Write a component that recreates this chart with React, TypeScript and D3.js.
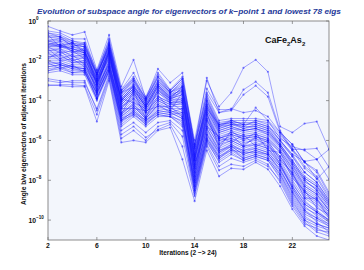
import React from "react";
import * as d3 from "d3";

const iterations = d3.range(2, 26);
const xTicks = [2, 6, 10, 14, 18, 22];
const yTickExps = [0, -2, -4, -6, -8, -10];

// log10 of subspace angle, x = 2..25
const seriesLog: number[][] = [
  [-0.27,-0.5,-0.7,-0.55,-2.45,-0.7,-3.3,-1.95,-3.9,-2.4,-3.1,-2.6,-6.3,-2.85,-4.6,-4.4,-4.6,-4.5,-4.8,-5.6,-6.2,-7.1,-7.5,-8.6],
  [-0.5,-0.6,-0.9,-0.9,-2.6,-0.9,-3.45,-2.6,-3.8,-2.6,-3.45,-2.8,-6.0,-3.0,-4.3,-3.6,-2.35,-1.95,-2.55,-5.3,-5.6,-5.15,-5.05,-6.45],
  [-0.6,-0.7,-1.0,-1.1,-2.5,-1.0,-3.5,-2.8,-3.9,-2.7,-3.5,-2.9,-6.2,-3.4,-4.45,-4.45,-3.45,-3.05,-3.6,-5.5,-6.45,-6.45,-6.4,-7.35],
  [-0.8,-0.8,-1.1,-1.2,-2.7,-1.1,-3.6,-2.9,-4.0,-2.8,-3.6,-3.0,-6.4,-3.6,-4.6,-4.5,-3.7,-3.25,-3.8,-5.6,-6.5,-7.05,-6.95,-6.45],
  [-1.2,-1.3,-1.3,-1.5,-3.0,-1.5,-3.9,-3.3,-4.2,-3.2,-3.9,-3.3,-6.7,-4.0,-5.2,-5.0,-5.2,-4.35,-5.0,-5.9,-6.3,-6.5,-6.95,-7.95],
  [-1.3,-1.2,-1.5,-1.6,-3.1,-1.6,-4.0,-3.4,-4.3,-3.3,-4.0,-3.5,-6.9,-4.2,-5.3,-5.1,-5.3,-5.0,-5.2,-6.0,-6.7,-7.05,-7.95,-7.3],
  [-0.7,-0.8,-1.0,-1.2,-2.6,-1.1,-3.5,-2.9,-3.9,-2.8,-3.5,-2.9,-6.2,-3.7,-5.0,-4.9,-4.9,-4.9,-5.0,-5.6,-6.2,-7.1,-7.6,-8.7],
  [-0.8,-0.9,-1.1,-1.3,-2.7,-1.2,-3.6,-3.0,-3.9,-2.9,-3.6,-3.1,-6.3,-3.8,-5.1,-5.0,-5.0,-5.0,-5.1,-5.7,-6.4,-7.3,-7.8,-8.8],
  [-1.0,-0.9,-1.2,-1.3,-2.7,-1.2,-3.8,-3.1,-4.0,-3.0,-3.6,-3.2,-6.5,-3.9,-5.2,-5.1,-5.1,-5.1,-5.3,-5.8,-6.5,-7.4,-7.9,-8.9],
  [-1.0,-1.1,-1.3,-1.4,-2.8,-1.3,-3.8,-3.2,-4.1,-3.1,-3.7,-3.3,-6.6,-4.1,-5.3,-5.2,-5.2,-5.2,-5.4,-6.0,-6.7,-7.6,-8.1,-9.0],
  [-1.1,-1.2,-1.4,-1.5,-2.9,-1.4,-3.9,-3.3,-4.2,-3.2,-3.8,-3.4,-6.7,-4.2,-5.4,-5.2,-5.3,-5.3,-5.5,-6.1,-6.8,-7.8,-8.2,-9.1],
  [-1.2,-1.2,-1.4,-1.6,-2.9,-1.5,-4.0,-3.4,-4.3,-3.3,-3.9,-3.5,-6.8,-4.3,-5.5,-5.3,-5.5,-5.4,-5.6,-6.2,-7.0,-7.9,-8.3,-9.2],
  [-1.3,-1.3,-1.5,-1.7,-3.0,-1.6,-4.1,-3.5,-4.3,-3.4,-3.9,-3.7,-6.9,-4.5,-5.6,-5.4,-5.6,-5.5,-5.7,-6.3,-7.1,-8.0,-8.5,-9.3],
  [-1.4,-1.4,-1.6,-1.7,-3.1,-1.6,-4.2,-3.6,-4.4,-3.5,-4.0,-3.8,-7.1,-4.6,-5.7,-5.5,-5.7,-5.6,-5.8,-6.4,-7.3,-8.2,-8.6,-9.4],
  [-1.5,-1.5,-1.7,-1.8,-3.2,-1.7,-4.3,-3.7,-4.5,-3.6,-4.1,-3.9,-7.2,-4.7,-5.8,-5.6,-5.8,-5.7,-5.9,-6.5,-7.4,-8.4,-8.8,-9.5],
  [-1.6,-1.6,-1.8,-1.9,-3.2,-1.8,-4.4,-3.8,-4.6,-3.8,-4.1,-4.0,-7.3,-4.8,-5.9,-5.7,-5.9,-5.8,-6.0,-6.6,-7.5,-8.5,-8.9,-9.6],
  [-1.7,-1.7,-1.9,-2.0,-3.3,-1.9,-4.5,-3.9,-4.6,-3.9,-4.2,-4.2,-7.5,-5.0,-6.0,-5.8,-6.0,-5.9,-6.1,-6.8,-7.7,-8.6,-9.0,-9.7],
  [-1.8,-1.8,-2.0,-2.1,-3.4,-2.0,-4.6,-4.0,-4.7,-4.0,-4.3,-4.3,-7.6,-5.1,-6.1,-5.9,-6.1,-6.0,-6.2,-6.9,-7.8,-8.8,-9.2,-9.8],
  [-1.9,-1.9,-2.1,-2.1,-3.5,-2.0,-4.7,-4.1,-4.8,-4.1,-4.4,-4.4,-7.7,-5.2,-6.3,-6.0,-6.3,-6.1,-6.3,-7.0,-8.0,-8.9,-9.3,-9.9],
  [-2.0,-2.0,-2.2,-2.2,-3.5,-2.1,-4.7,-4.2,-4.9,-4.2,-4.4,-4.6,-7.8,-5.4,-6.4,-6.1,-6.4,-6.2,-6.4,-7.1,-8.1,-9.1,-9.5,-10.0],
  [-2.1,-2.1,-2.3,-2.3,-3.6,-2.2,-4.8,-4.3,-4.9,-4.3,-4.5,-4.7,-8.0,-5.5,-6.5,-6.2,-6.5,-6.3,-6.5,-7.2,-8.3,-9.2,-9.6,-10.0],
  [-2.2,-2.1,-2.3,-2.4,-3.7,-2.3,-4.9,-4.4,-5.0,-4.4,-4.5,-4.8,-8.1,-5.6,-6.6,-6.2,-6.6,-6.4,-6.6,-7.3,-8.4,-9.4,-9.7,-10.1],
  [-2.3,-2.2,-2.4,-2.5,-3.8,-2.4,-5.0,-4.5,-5.1,-4.5,-4.6,-4.9,-8.2,-5.7,-6.7,-6.3,-6.7,-6.5,-6.7,-7.5,-8.6,-9.6,-9.9,-10.2],
  [-2.4,-2.3,-2.5,-2.5,-3.9,-2.5,-5.1,-4.6,-5.2,-4.6,-4.7,-5.1,-8.3,-5.9,-6.8,-6.4,-6.8,-6.6,-6.8,-7.6,-8.7,-9.7,-10.0,-10.3],
  [-2.5,-2.4,-2.6,-2.6,-3.9,-2.5,-5.2,-4.7,-5.2,-4.7,-4.8,-5.2,-8.5,-6.0,-6.9,-6.5,-6.9,-6.7,-6.9,-7.7,-8.9,-9.9,-10.2,-10.4],
  [-2.6,-2.5,-2.7,-2.7,-4.0,-2.6,-5.3,-4.8,-5.3,-4.8,-4.8,-5.3,-8.6,-6.1,-7.0,-6.6,-7.0,-6.8,-7.0,-7.8,-9.0,-10.0,-10.3,-10.5],
  [-0.9,-1.0,-1.2,-1.3,-2.8,-1.2,-4.0,-3.2,-4.2,-3.2,-3.8,-3.6,-7.4,-4.9,-6.2,-6.0,-6.3,-6.2,-6.4,-7.2,-8.4,-9.3,-9.8,-10.2],
  [-2.3,-2.2,-2.4,-2.4,-3.7,-2.3,-4.6,-4.2,-4.8,-4.0,-4.3,-4.1,-7.0,-4.5,-5.6,-5.4,-5.5,-5.4,-5.6,-6.2,-7.0,-7.9,-8.3,-9.1],
  [-1.4,-1.9,-1.7,-2.2,-3.0,-1.9,-3.9,-4.1,-4.4,-3.7,-4.5,-3.6,-7.9,-4.6,-6.4,-5.5,-6.0,-5.6,-6.5,-6.6,-7.9,-8.5,-9.4,-9.7],
  [-1.9,-1.5,-2.0,-1.8,-3.4,-1.5,-4.7,-3.5,-4.9,-3.4,-4.1,-4.5,-7.2,-5.3,-5.8,-6.1,-5.7,-6.3,-6.0,-7.0,-7.6,-8.9,-8.9,-9.9],
  [-0.7,-1.3,-1.1,-1.6,-2.6,-1.4,-3.6,-3.3,-4.0,-3.1,-3.7,-3.5,-6.4,-4.4,-5.2,-5.1,-5.4,-5.3,-5.5,-6.3,-7.2,-8.3,-8.7,-9.5],
  [-2.1,-2.4,-2.2,-2.6,-3.6,-2.4,-4.9,-4.6,-5.0,-4.6,-4.7,-4.6,-8.4,-5.8,-6.8,-6.5,-6.6,-6.6,-6.7,-7.5,-8.5,-9.5,-10.1,-10.6],
  [-1.2,-1.0,-1.6,-1.4,-3.2,-1.7,-4.3,-3.9,-4.6,-3.9,-4.2,-4.0,-7.6,-5.0,-6.0,-5.9,-6.2,-5.9,-6.3,-6.8,-7.7,-8.7,-9.1,-9.8],
  [-1.6,-2.0,-1.9,-2.3,-3.3,-2.2,-4.4,-4.4,-4.5,-4.3,-4.3,-4.8,-8.0,-5.3,-6.2,-5.7,-6.3,-5.8,-6.1,-7.2,-8.2,-9.0,-9.6,-10.0],
  [-0.6,-0.8,-1.3,-1.1,-2.7,-1.3,-3.7,-3.0,-4.1,-3.0,-3.6,-3.3,-6.8,-4.0,-5.3,-5.0,-5.2,-5.1,-5.3,-6.0,-6.8,-7.6,-8.1,-9.0],
  [-2.5,-2.3,-2.6,-2.5,-3.9,-2.5,-5.0,-4.7,-5.1,-4.7,-4.8,-5.0,-8.3,-5.9,-6.9,-6.4,-6.9,-6.7,-6.9,-7.7,-8.8,-9.8,-10.2,-10.4],
  [-1.3,-1.6,-1.5,-1.9,-3.1,-1.8,-4.2,-3.6,-4.4,-3.6,-4.0,-3.9,-7.3,-4.7,-5.9,-5.6,-5.8,-5.7,-5.9,-6.5,-7.4,-8.3,-8.7,-9.5],
  [-1.8,-1.7,-2.1,-2.0,-3.5,-2.1,-4.8,-4.3,-4.9,-4.2,-4.6,-4.4,-7.8,-5.4,-6.5,-6.3,-6.5,-6.4,-6.6,-7.3,-8.3,-9.2,-9.6,-10.1],
  [-1.0,-1.2,-1.1,-1.5,-2.9,-1.5,-4.0,-3.4,-4.3,-3.3,-3.8,-3.4,-7.0,-4.3,-5.4,-5.2,-5.4,-5.2,-5.4,-6.2,-7.1,-8.0,-8.5,-9.3],
  [-2.0,-2.2,-2.3,-2.4,-3.6,-2.3,-5.0,-4.5,-5.0,-4.5,-4.6,-4.9,-8.1,-5.7,-6.6,-6.3,-6.7,-6.5,-6.7,-7.4,-8.6,-9.5,-9.9,-10.3],
  [-1.5,-1.4,-1.8,-1.7,-3.2,-1.6,-4.4,-3.7,-4.5,-3.8,-4.1,-4.1,-7.4,-4.9,-5.9,-5.7,-5.9,-5.8,-6.0,-6.6,-7.6,-8.6,-9.0,-9.6],
  [-1.1,-1.3,-1.4,-1.6,-3.0,-1.4,-4.1,-3.5,-4.3,-3.5,-3.9,-3.7,-7.0,-4.4,-5.5,-5.3,-5.5,-5.4,-5.7,-6.3,-7.2,-8.1,-8.4,-9.2],
  [-3.0,-3.1,-3.0,-3.0,-4.5,-2.8,-5.7,-5.3,-5.85,-5.45,-5.2,-6.3,-8.8,-6.3,-7.5,-7.2,-7.3,-7.0,-7.3,-8.0,-9.2,-10.1,-10.6,-10.8],
  [-3.2,-3.25,-3.3,-3.3,-5.05,-3.0,-6.1,-6.0,-6.1,-5.5,-5.35,-6.95,-9.05,-6.5,-7.8,-7.4,-7.45,-7.1,-7.45,-8.3,-9.45,-10.3,-10.8,-11.0],
  [-3.25,-3.2,-3.2,-3.25,-4.7,-2.9,-5.9,-5.5,-6.0,-5.3,-5.1,-5.8,-8.7,-6.2,-7.3,-6.9,-7.1,-6.9,-7.2,-8.1,-9.3,-10.2,-10.4,-10.7],
  [-2.9,-3.0,-3.1,-3.1,-4.4,-2.7,-5.5,-5.1,-5.6,-5.1,-5.0,-5.5,-8.5,-6.0,-7.1,-6.7,-7.0,-6.8,-7.0,-7.9,-9.1,-10.0,-10.5,-10.6],
];

const W = 364, H = 270;
const L = 48, R = 329, T = 21, B = 240;

export default function App() {
  const x = d3.scaleLinear().domain([2, 25]).range([L, R]);
  const y = d3.scaleLog().domain([1e-11, 1]).range([B, T]);
  const line = d3
    .line<number>()
    .x((_, i) => x(iterations[i]))
    .y((v) => y(Math.pow(10, v)));
  const font = "'Liberation Sans', Arial, Helvetica, sans-serif";
  return (
    <svg width={W} height={H} style={{ position: "absolute", left: 0, top: 0, background: "#fff" }}>
      <defs>
        <clipPath id="pc">
          <rect x={L} y={T - 1} width={R - L} height={B - T + 1} />
        </clipPath>
      </defs>
      <rect x={L} y={T} width={R - L} height={B - T} fill="#f3f6fc" />
      <g clipPath="url(#pc)">
        {seriesLog.map((s, i) => (
          <g key={i}>
            <path d={line(s) || ""} fill="none" stroke="rgba(20,20,255,0.48)" strokeWidth={0.8} />
            {s.map((v, j) => (
              <circle key={j} cx={x(iterations[j])} cy={y(Math.pow(10, v))} r={1.1} fill="rgba(20,20,255,0.5)" />
            ))}
          </g>
        ))}
      </g>
      <rect x={L} y={T} width={R - L} height={B - T} fill="none" stroke="#707070" strokeWidth={0.8} />
      {xTicks.map((t) => (
        <g key={t}>
          <line x1={x(t)} x2={x(t)} y1={B} y2={B - 3} stroke="#707070" strokeWidth={0.7} />
          <line x1={x(t)} x2={x(t)} y1={T} y2={T + 3} stroke="#707070" strokeWidth={0.7} />
          <text x={x(t)} y={B + 8} textAnchor="middle" fontFamily={font} fontWeight="bold" fontSize={6.8} fill="#111">
            {t}
          </text>
        </g>
      ))}
      {yTickExps.map((e) => (
        <g key={e}>
          <line x1={L} x2={L + 3} y1={y(Math.pow(10, e))} y2={y(Math.pow(10, e))} stroke="#707070" strokeWidth={0.7} />
          <line x1={R} x2={R - 3} y1={y(Math.pow(10, e))} y2={y(Math.pow(10, e))} stroke="#707070" strokeWidth={0.7} />
          <text x={36} y={y(Math.pow(10, e)) + 2.5} textAnchor="end" fontFamily={font} fontWeight="bold" fontSize={6.8} fill="#111">
            10
          </text>
          <text x={36} y={y(Math.pow(10, e)) - 1.5} textAnchor="start" fontFamily={font} fontWeight="bold" fontSize={4.6} fill="#111">
            {e === 0 ? "0" : "\u2212" + -e}
          </text>
        </g>
      ))}
      <text x={189} y={14} textAnchor="middle" fontFamily={font} fontWeight="bold" fontStyle="italic" fontSize={8} fill="#263a9a" textLength={304} lengthAdjust="spacingAndGlyphs">
        Evolution of subspace angle for eigenvectors of k−point 1 and lowest 78 eigs
      </text>
      <text x={188} y={255} textAnchor="middle" fontFamily={font} fontWeight="bold" fontSize={6.5} fill="#111">
        Iterations (2 −&gt; 24)
      </text>
      <text transform={`translate(26,134) rotate(-90)`} textAnchor="middle" fontFamily={font} fontWeight="bold" fontSize={7.2} fill="#111" textLength={142} lengthAdjust="spacingAndGlyphs">
        Angle b/w eigenvectors of adjacent iterations
      </text>
      <text x={265} y={43} fontFamily={font} fontWeight="bold" fontSize={9} fill="#111">
        CaFe<tspan fontSize={6} dy={2.5}>2</tspan>
        <tspan dy={-2.5}>As</tspan>
        <tspan fontSize={6} dy={2.5}>2</tspan>
      </text>
    </svg>
  );
}
